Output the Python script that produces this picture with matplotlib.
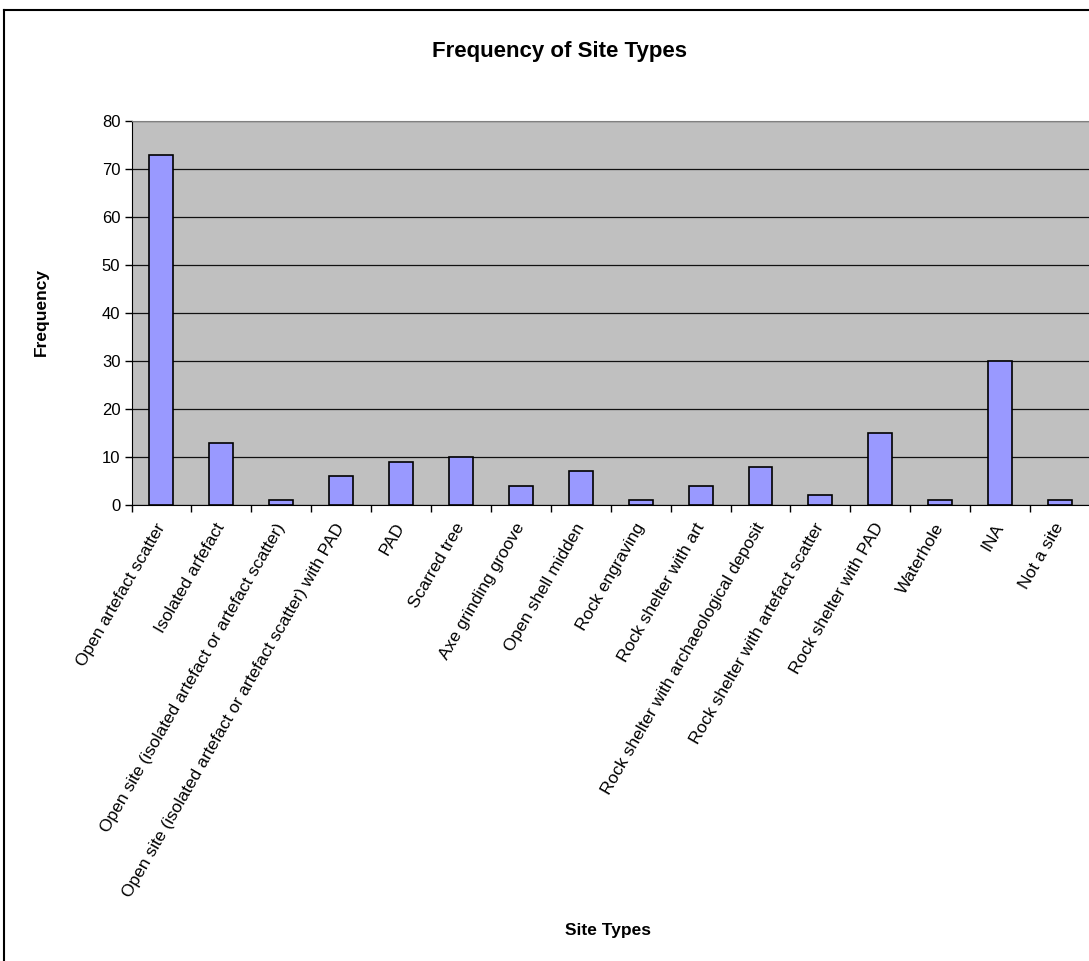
import numpy as np
import matplotlib
matplotlib.use("Agg")
import matplotlib.pyplot as plt
from matplotlib.lines import Line2D

site_types = [
    "Open artefact scatter",
    "Isolated arfefact",
    "Open site (isolated artefact or artefact scatter)",
    "Open site (isolated artefact or artefact scatter) with PAD",
    "PAD",
    "Scarred tree",
    "Axe grinding groove",
    "Open shell midden",
    "Rock engraving",
    "Rock shelter with art",
    "Rock shelter with archaeological deposit",
    "Rock shelter with artefact scatter",
    "Rock shelter with PAD",
    "Waterhole",
    "INA",
    "Not a site",
]
frequency = [73, 13, 1, 6, 9, 10, 4, 7, 1, 4, 8, 2, 15, 1, 30, 1]
y_ticks = [0, 10, 20, 30, 40, 50, 60, 70, 80]

plt.rcParams["font.family"] = ["Liberation Sans", "DejaVu Sans"]

W, H = 1089, 961
fig = plt.figure(figsize=(W / 100, H / 100), dpi=100)
fig.patch.set_facecolor("white")

# chart frame, open at the right and bottom
fig.add_artist(Line2D([4 / W, 4 / W], [0, 1 - 10 / H], color="black",
                      lw=1.5, transform=fig.transFigure))
fig.add_artist(Line2D([4 / W, 1], [1 - 10 / H, 1 - 10 / H], color="black",
                      lw=1.5, transform=fig.transFigure))

left, right, top, bottom = 131.5, 1090, 121, 505
ax = fig.add_axes([left / W, 1 - bottom / H, (right - left) / W, (bottom - top) / H])
ax.set_facecolor("#C0C0C0")

x = np.arange(len(site_types))
ax.bar(x, frequency, width=0.4, color="#9999FF", edgecolor="black",
       linewidth=1.2, zorder=3)

ax.set_xlim(-0.5, len(site_types) - 0.5)
ax.set_ylim(0, 80)
ax.set_yticks(y_ticks)
ax.set_yticklabels([str(v) for v in y_ticks], fontsize=12)
ax.yaxis.grid(True, color="#111111", linewidth=0.9, zorder=1)
ax.set_axisbelow(True)

# category boundary ticks on the x axis, labels at the centres
ax.set_xticks(np.arange(-0.5, len(site_types) + 0.5, 1.0))
ax.set_xticklabels([])
ax.set_xticks(x, minor=True)
ax.set_xticklabels(site_types, minor=True, rotation=60, ha="right",
                   va="center", rotation_mode="anchor", fontsize=12.5)
ax.tick_params(axis="x", which="minor", length=0, pad=14)
ax.tick_params(axis="x", which="major", length=5, width=1, direction="out")
ax.tick_params(axis="y", length=5, width=1, direction="out", pad=3)

ax.spines["top"].set_color("#808080")
ax.spines["right"].set_visible(False)
ax.spines["left"].set_color("black")
ax.spines["bottom"].set_color("black")

fig.text(560 / W, 1 - 51 / H, "Frequency of Site Types", ha="center",
         va="center", fontsize=16, fontweight="bold")
fig.text(41 / W, 1 - 312 / H, "Frequency", ha="center", va="center",
         rotation=90, fontsize=12.5, fontweight="bold")
fig.text(608 / W, 1 - 930 / H, "Site Types", ha="center", va="center",
         fontsize=12.5, fontweight="bold")

fig.savefig("out.png", dpi=100)
